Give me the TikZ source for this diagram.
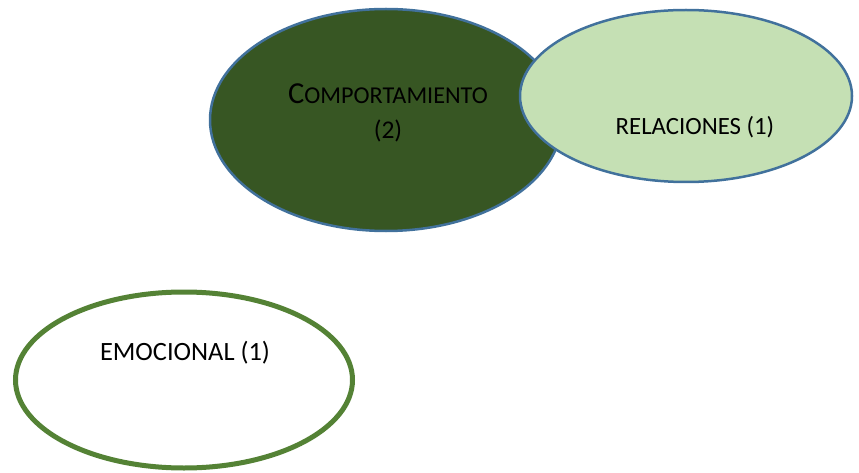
\documentclass[tikz,border=0pt]{standalone}
\usepackage{fontspec}
\setmainfont{Carlito}
\usetikzlibrary{shapes.geometric}
\definecolor{darkleaf}{HTML}{375623}
\definecolor{paleleaf}{HTML}{C5E0B4}
\definecolor{rimblue}{HTML}{41719C}
\definecolor{rimgreen}{HTML}{548235}
\tikzset{
  blob/.style={ellipse, inner sep=0pt, outer sep=0pt},
  label/.style={text=black, inner sep=0pt, align=center},
}
\begin{document}
\begin{tikzpicture}[x=1pt,y=-1pt]
  \useasboundingbox (0,0) rectangle (859,473);
  % three topic areas
  \node[blob, fill=darkleaf, draw=rimblue, line width=2.5pt,
        minimum width=352pt, minimum height=222pt] (comp) at (386,120) {};
  \node[blob, fill=paleleaf, draw=rimblue, line width=2.5pt,
        minimum width=332pt, minimum height=172pt] (rel) at (686,96) {};
  \node[blob, fill=white, draw=rimgreen, line width=5pt,
        minimum width=337pt, minimum height=176pt] (emo) at (184,380) {};
  % labels
  \node[label, anchor=base] (comptxt) at (388,104)
    {{\fontsize{30.5}{32}\selectfont C}{\fontsize{24.2}{28}\selectfont OMPORTAMIENTO}};
  \node[label, anchor=base, font=\fontsize{25.5}{30}\selectfont] (comptwo) at (388,139) {(2)};
  \node[label, anchor=base, font=\fontsize{24.8}{30}\selectfont] (reltxt) at (695,135) {RELACIONES (1)};
  \node[label, anchor=base, font=\fontsize{26.4}{30}\selectfont] (emotxt) at (185,360) {EMOCIONAL (1)};
\end{tikzpicture}
\end{document}
